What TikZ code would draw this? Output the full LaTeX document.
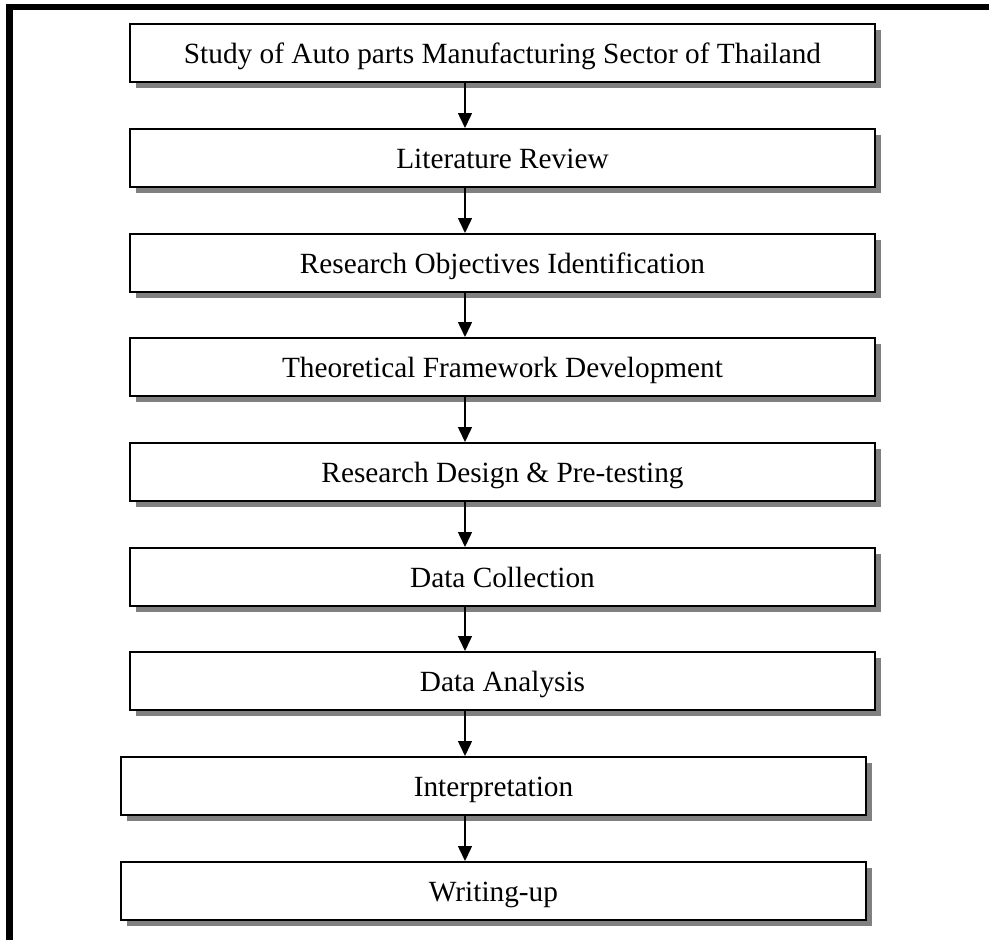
\documentclass[tikz,border=0pt]{standalone}
\usepackage{fontspec}
\setmainfont{Liberation Serif}
\usetikzlibrary{arrows.meta,shadows}
\begin{document}
\begin{tikzpicture}[x=1pt,y=-1pt,
  stage/.style={draw=black, line width=2pt, fill=white,
    minimum width=745pt, minimum height=57.5pt, inner sep=0pt,
    text height=22pt, text depth=0pt,
    anchor=north west, font=\fontsize{29.3}{32}\selectfont,
    drop shadow={shadow xshift=6pt, shadow yshift=-6pt, fill=black!50, opacity=1}},
  flow/.style={line width=1.5pt, -{Triangle[length=15pt,width=14pt]}},
  frame/.style={line width=6.5pt, line join=miter}]
\useasboundingbox (0,0) rectangle (989,940);

% page frame (top and left edges)
\draw[frame] (9.5,940) -- (9.5,7) -- (989,7);

% process stages
\node[stage] (s1) at (129,23)  {Study of Auto parts Manufacturing Sector of Thailand};
\node[stage] (s2) at (129,128) {Literature Review};
\node[stage] (s3) at (129,233) {Research Objectives Identification};
\node[stage] (s4) at (129,337) {Theoretical Framework Development};
\node[stage] (s5) at (129,442) {Research Design \& Pre-testing};
\node[stage] (s6) at (129,547) {Data Collection};
\node[stage] (s7) at (129,651) {Data Analysis};
\node[stage] (s8) at (120,756) {Interpretation};
\node[stage] (s9) at (120,861) {Writing-up};

% vertical spine that the arrows follow
\coordinate (spine) at (465,0);
\foreach \a/\b in {s1/s2,s2/s3,s3/s4,s4/s5,s5/s6,s6/s7,s7/s8,s8/s9}
  \draw[flow] (\a.south -| spine) -- (\b.north -| spine);
\end{tikzpicture}
\end{document}
